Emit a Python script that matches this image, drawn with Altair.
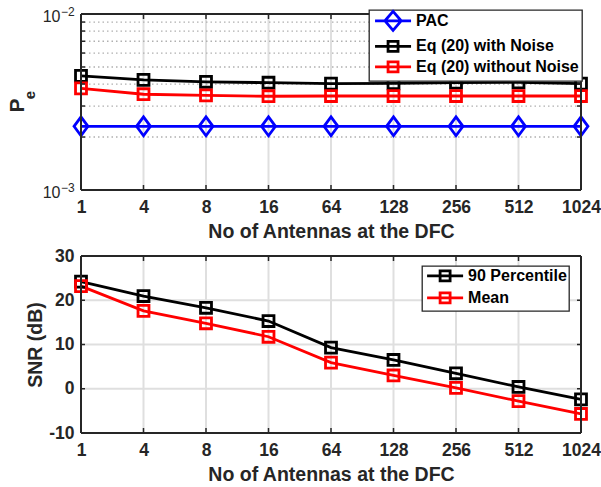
import altair as alt
import pandas as pd

FONT = "Liberation Sans"
AX = "#262626"

# ---- shared x categories -------------------------------------------------
antennas = ["1", "4", "8", "16", "64", "128", "256", "512", "1024"]

# ---- top panel: error probability ---------------------------------------
pe_series = ["PAC", "Eq (20) with Noise", "Eq (20) without Noise"]
pe_pac = [2.30e-3, 2.30e-3, 2.30e-3, 2.30e-3, 2.30e-3, 2.30e-3, 2.30e-3, 2.30e-3, 2.30e-3]
pe_with_noise = [4.45e-3, 4.22e-3, 4.12e-3, 4.07e-3, 4.02e-3, 4.04e-3, 4.07e-3, 4.09e-3, 4.02e-3]
pe_without_noise = [3.78e-3, 3.50e-3, 3.45e-3, 3.41e-3, 3.42e-3, 3.42e-3, 3.42e-3, 3.42e-3, 3.42e-3]
pe_colors = ["#0000ff", "#000000", "#ff0000"]
pe_decades = [1e-3, 1e-2]
pe_decade_exp = ["\u22123", "\u22122"]
pe_minor = [2e-3, 3e-3, 4e-3, 5e-3, 6e-3, 7e-3, 8e-3, 9e-3]

# ---- bottom panel: SNR --------------------------------------------------
snr_series = ["90 Percentile", "Mean"]
snr_p90 = [24.2, 20.95, 18.3, 15.3, 9.3, 6.5, 3.5, 0.4, -2.4]
snr_mean = [23.2, 17.6, 14.8, 11.75, 5.9, 3.0, 0.2, -2.8, -5.7]
snr_colors = ["#000000", "#ff0000"]
snr_ticks = [-10, 0, 10, 20, 30]

W, H1, H2 = 500, 176, 177
LW = 2.8
TICK = 5

# marker outlines (custom symbol paths)
DIAMOND = "M0,-1.72L1.27,0L0,1.72L-1.27,0Z"
SQUARE = "M-1,-1H1V1H-1Z"
# legend keys: line stroke running through the marker outline
LEG_DIAMOND = "M-3.6,0H3.6M0,-1.9L1.63,0L0,1.9L-1.63,0Z"
LEG_SQUARE = "M-3.6,0H3.6M-1,-1H1V1H-1Z"

pe_df = pd.DataFrame({
    "N": antennas * 3,
    "series": [s for s in pe_series for _ in antennas],
    "value": pe_pac + pe_with_noise + pe_without_noise,
})
snr_df = pd.DataFrame({
    "N": antennas * 2,
    "series": [s for s in snr_series for _ in antennas],
    "value": snr_p90 + snr_mean,
})
cat_df = pd.DataFrame({"N": antennas})
edge_df = pd.DataFrame({"N": [antennas[0], antennas[-1]]})


def x_enc():
    return alt.X(
        "N:O",
        sort=antennas,
        scale=alt.Scale(type="point", padding=0, domain=antennas),
        axis=alt.Axis(
            title="No of Antennas at the DFC", titleFont=FONT, titleFontSize=19.5,
            titleFontWeight="bold", titleColor=AX, titleY=41, titleBaseline="middle",
            labelFont=FONT, labelFontSize=17.5, labelFontWeight="bold", labelColor=AX,
            labelPadding=17.5, labelBaseline="middle", labelAngle=0, labelOverlap=False,
            ticks=False, tickSize=0, domain=False, grid=False,
        ),
    )


def legend(x, y, pad, row_pad):
    return alt.Legend(
        title=None, orient="none", legendX=x, legendY=y,
        fillColor="white", strokeColor=AX, padding=pad, rowPadding=row_pad,
        labelFont=FONT, labelFontSize=16, labelFontWeight="bold", labelColor="#000000",
        labelLimit=400,
        symbolSize=100, symbolStrokeWidth=LW, symbolOffset=13.2, labelOffset=15,
        symbolOpacity=1, symbolFillColor="transparent",
    )


def series_layers(df, y, names, colors, marker_for, key_shapes, leg):
    cscale = alt.Scale(domain=names, range=colors)
    color = alt.Color("series:N", scale=cscale, legend=leg)
    layers = [alt.Chart(df).mark_line(strokeWidth=LW).encode(x=x_enc(), y=y, color=color)]
    for path in sorted(set(marker_for.values())):
        members = [n for n in names if marker_for[n] == path]
        layers.append(
            alt.Chart(df)
            .transform_filter(alt.FieldOneOfPredicate(field="series", oneOf=members))
            .mark_point(shape=path, filled=False, size=120, strokeWidth=LW, opacity=1)
            .encode(x=x_enc(), y=y, color=color)
        )
    # invisible layer that only feeds the legend keys
    key = alt.Chart(df).mark_point(opacity=0, filled=False, size=100, strokeWidth=LW).encode(
        x=x_enc(), y=y, color=color,
        shape=alt.Shape("series:N", scale=alt.Scale(domain=names, range=key_shapes), legend=leg),
    )
    layers.append(key)
    return layers


def frame_layers(edge_h_df, y):
    grid_v = alt.Chart(cat_df).mark_rule(color="#dfdfdf", strokeWidth=2).encode(x=x_enc())
    edge_v = alt.Chart(edge_df).mark_rule(color=AX, strokeWidth=2).encode(x=x_enc())
    edge_h = alt.Chart(edge_h_df).mark_rule(color=AX, strokeWidth=2).encode(y=y)
    return grid_v, edge_v, edge_h


def x_tick_layers(h):
    bot = alt.Chart(cat_df).mark_rule(color=AX, strokeWidth=1.5).encode(
        x=x_enc(), y=alt.value(h), y2=alt.value(h - TICK))
    top = alt.Chart(cat_df).mark_rule(color=AX, strokeWidth=1.5).encode(
        x=x_enc(), y=alt.value(0), y2=alt.value(TICK))
    return [bot, top]


def y_tick_layers(df, y):
    left = alt.Chart(df).mark_rule(color=AX, strokeWidth=1.5).encode(
        y=y, x=alt.value(0), x2=alt.value(TICK - 1))
    right = alt.Chart(df).mark_rule(color=AX, strokeWidth=1.5).encode(
        y=y, x=alt.value(W), x2=alt.value(W - TICK + 1))
    return [left, right]


# ---------------- top panel ----------------
pe_scale = alt.Scale(type="log", domain=[1e-3, 1e-2])
pe_y = alt.Y("value:Q", scale=pe_scale, axis=None)
dec_df = pd.DataFrame({"value": pe_decades, "exp": pe_decade_exp})
minor_df = pd.DataFrame({"value": pe_minor})

minor_grid = alt.Chart(minor_df).mark_rule(
    color="#b0b0b0", strokeWidth=1.3, strokeDash=[1.5, 3]).encode(y=pe_y)
g_v, e_v, e_h = frame_layers(dec_df, pe_y)

dec_base = alt.Chart(dec_df).mark_text(
    font=FONT, fontSize=16, align="right", baseline="middle", dy=2.5, color=AX
).encode(y=pe_y, x=alt.value(-20.5), text=alt.value("10"))
dec_exp = alt.Chart(dec_df).mark_text(
    font=FONT, fontSize=12, align="left", baseline="middle", dy=-2.5, color=AX
).encode(y=pe_y, x=alt.value(-20), text="exp:N")

p_lbl = alt.Chart(alt.Data(values=[{"t": "P"}])).mark_text(
    font=FONT, fontSize=21, fontWeight="bold", angle=270, align="center",
    baseline="middle", color=AX
).encode(x=alt.value(-63.5), y=alt.value(91.5), text="t:N")
e_lbl = alt.Chart(alt.Data(values=[{"t": "e"}])).mark_text(
    font=FONT, fontSize=15, fontWeight="bold", angle=270, align="center",
    baseline="middle", color=AX
).encode(x=alt.value(-51), y=alt.value(81), text="t:N")

pe_markers = {"PAC": DIAMOND, "Eq (20) with Noise": SQUARE, "Eq (20) without Noise": SQUARE}
top = alt.layer(
    g_v, minor_grid,
    *series_layers(pe_df, pe_y, pe_series, pe_colors, pe_markers,
                   [LEG_DIAMOND, LEG_SQUARE, LEG_SQUARE], legend(288, -4, 2.85, -1.5)),
    e_v, e_h,
    *x_tick_layers(H1), *y_tick_layers(minor_df, pe_y),
    dec_base, dec_exp, p_lbl, e_lbl,
).properties(width=W, height=H1)

# ---------------- bottom panel ----------------
snr_axis = alt.Axis(
    values=snr_ticks, title="SNR (dB)", titleFont=FONT, titleFontSize=19.5,
    titleFontWeight="bold", titleColor=AX, titleX=-45.5, titleY=H2 / 2,
    titleAngle=270, titleAlign="center", titleBaseline="middle",
    labelFont=FONT, labelFontSize=17.5, labelFontWeight="bold", labelColor=AX,
    labelPadding=7, labelExpr="'' + datum.value",
    ticks=False, tickSize=0, domain=False, grid=False,
)
snr_y = alt.Y("value:Q", scale=alt.Scale(domain=[-10, 30], nice=False, zero=False), axis=snr_axis)
tick_df = pd.DataFrame({"value": snr_ticks})
lim_df = pd.DataFrame({"value": [snr_ticks[0], snr_ticks[-1]]})

grid_h = alt.Chart(tick_df).mark_rule(color="#dfdfdf", strokeWidth=2).encode(y=snr_y)
g_v2, e_v2, e_h2 = frame_layers(lim_df, snr_y)

snr_markers = {"90 Percentile": SQUARE, "Mean": SQUARE}
bottom = alt.layer(
    grid_h, g_v2,
    *series_layers(snr_df, snr_y, snr_series, snr_colors, snr_markers,
                   [LEG_SQUARE, LEG_SQUARE], legend(341, 10, 1.9, 0)),
    e_v2, e_h2,
    *x_tick_layers(H2), *y_tick_layers(tick_df, snr_y),
).properties(width=W, height=H2)

chart = (
    alt.vconcat(top, bottom, spacing=66, bounds="flush")
    .resolve_scale(x="independent", y="independent", color="independent", shape="independent")
    .resolve_legend(color="independent", shape="independent")
    .configure(padding={"left": 6, "top": 5, "right": 0, "bottom": 0}, background="white")
    .configure_view(stroke=None)
    .configure_legend(strokeWidth=1.3)
)

chart.save("out.html", embed_options={"renderer": "svg", "actions": False})
